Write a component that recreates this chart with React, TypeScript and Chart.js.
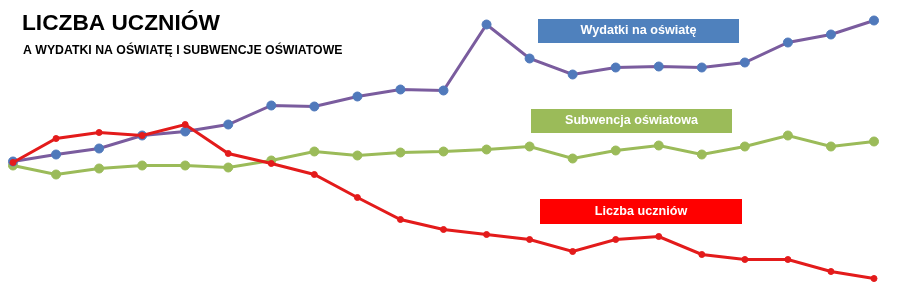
import React, { useEffect, useRef } from "react";
import { Chart, registerables } from "chart.js";

Chart.register(...registerables);

const labels = ["1", "2", "3", "4", "5", "6", "7", "8", "9", "10", "11", "12", "13", "14", "15", "16", "17", "18", "19", "20", "21"];
const wydatki = [139, 146, 152, 165, 169, 176, 195, 194, 204, 211, 210, 276, 242, 226, 233, 234, 233, 238, 258, 266, 280];
const subwencja = [135, 126, 132, 135, 135, 133, 140, 149, 145, 148, 149, 151, 154, 142, 150, 155, 146, 154, 165, 154, 159];
const uczniowie = [138, 162, 168, 165, 176, 147, 137, 126, 103, 81, 71, 66, 61, 49, 61, 64, 46, 41, 41, 29, 22];

const title = "LICZBA UCZNIÓW";
const subtitle = "A WYDATKI NA OŚWIATĘ I SUBWENCJE OŚWIATOWE";
const boxLabels = ["Wydatki na oświatę", "Subwencja oświatowa", "Liczba uczniów"];

const overlay = {
  id: "overlay",
  afterDraw(chart: any) {
    const ctx = chart.ctx as CanvasRenderingContext2D;
    ctx.save();
    ctx.fillStyle = "#000";
    ctx.textBaseline = "alphabetic";
    ctx.textAlign = "left";
    ctx.font = "bold 22.7px 'Liberation Sans', Arial, sans-serif";
    ctx.fillText(title, 22, 30);
    ctx.font = "bold 12.3px 'Liberation Sans', Arial, sans-serif";
    ctx.fillText(subtitle, 23, 54);

    const boxes = [
      { x: 538, y: 19, w: 201, h: 24, c: "#4f81bd", t: boxLabels[0] },
      { x: 531, y: 109, w: 201, h: 24, c: "#9bbb59", t: boxLabels[1] },
      { x: 540, y: 199, w: 202, h: 25, c: "#ff0000", t: boxLabels[2] },
    ];
    for (const b of boxes) {
      ctx.fillStyle = b.c;
      ctx.fillRect(b.x, b.y, b.w, b.h);
      ctx.fillStyle = "#fff";
      ctx.textAlign = "center";
      ctx.textBaseline = "middle";
      ctx.font = "bold 12.6px 'Liberation Sans', Arial, sans-serif";
      ctx.fillText(b.t, b.x + b.w / 2, b.y + b.h / 2);
    }
    ctx.restore();
  },
};

export default function App() {
  const ref = useRef<HTMLCanvasElement | null>(null);
  useEffect(() => {
    if (!ref.current) return;
    const chart = new Chart(ref.current, {
      type: "line",
      data: {
        labels,
        datasets: [
          {
            label: boxLabels[2],
            data: uczniowie,
            borderColor: "#e31b1b",
            backgroundColor: "#e31b1b",
            pointBackgroundColor: "#e31b1b",
            pointBorderColor: "#e31b1b",
            borderWidth: 3,
            pointRadius: 3,
            pointBorderWidth: 1,
            tension: 0,
            order: 0,
          },
          {
            label: boxLabels[0],
            data: wydatki,
            borderColor: "#7a5c9e",
            backgroundColor: "#4f81bd",
            pointBackgroundColor: "#5079bb",
            pointBorderColor: "#5079bb",
            borderWidth: 3,
            pointRadius: 4.5,
            pointBorderWidth: 1,
            tension: 0,
            order: 1,
          },
          {
            label: boxLabels[1],
            data: subwencja,
            borderColor: "#9bbb59",
            backgroundColor: "#9bbb59",
            pointBackgroundColor: "#9bbb59",
            pointBorderColor: "#9bbb59",
            borderWidth: 3,
            pointRadius: 4.5,
            pointBorderWidth: 1,
            tension: 0,
            order: 2,
          },
        ],
      },
      options: {
        animation: false,
        responsive: false,
        maintainAspectRatio: false,
        layout: { padding: { left: 13, right: 26, top: 0, bottom: 0 } },
        plugins: { legend: { display: false }, tooltip: { enabled: false }, title: { display: false } },
        scales: {
          x: { display: false, offset: false },
          y: { display: false, min: 6, max: 295 },
        },
      },
      plugins: [overlay],
    });
    return () => chart.destroy();
  }, []);
  return (
    <div style={{ position: "fixed", left: 0, top: 0, width: 900, height: 300, background: "#fff" }}>
      <canvas ref={ref} width={900} height={300} style={{ width: 900, height: 300, display: "block" }} />
    </div>
  );
}
